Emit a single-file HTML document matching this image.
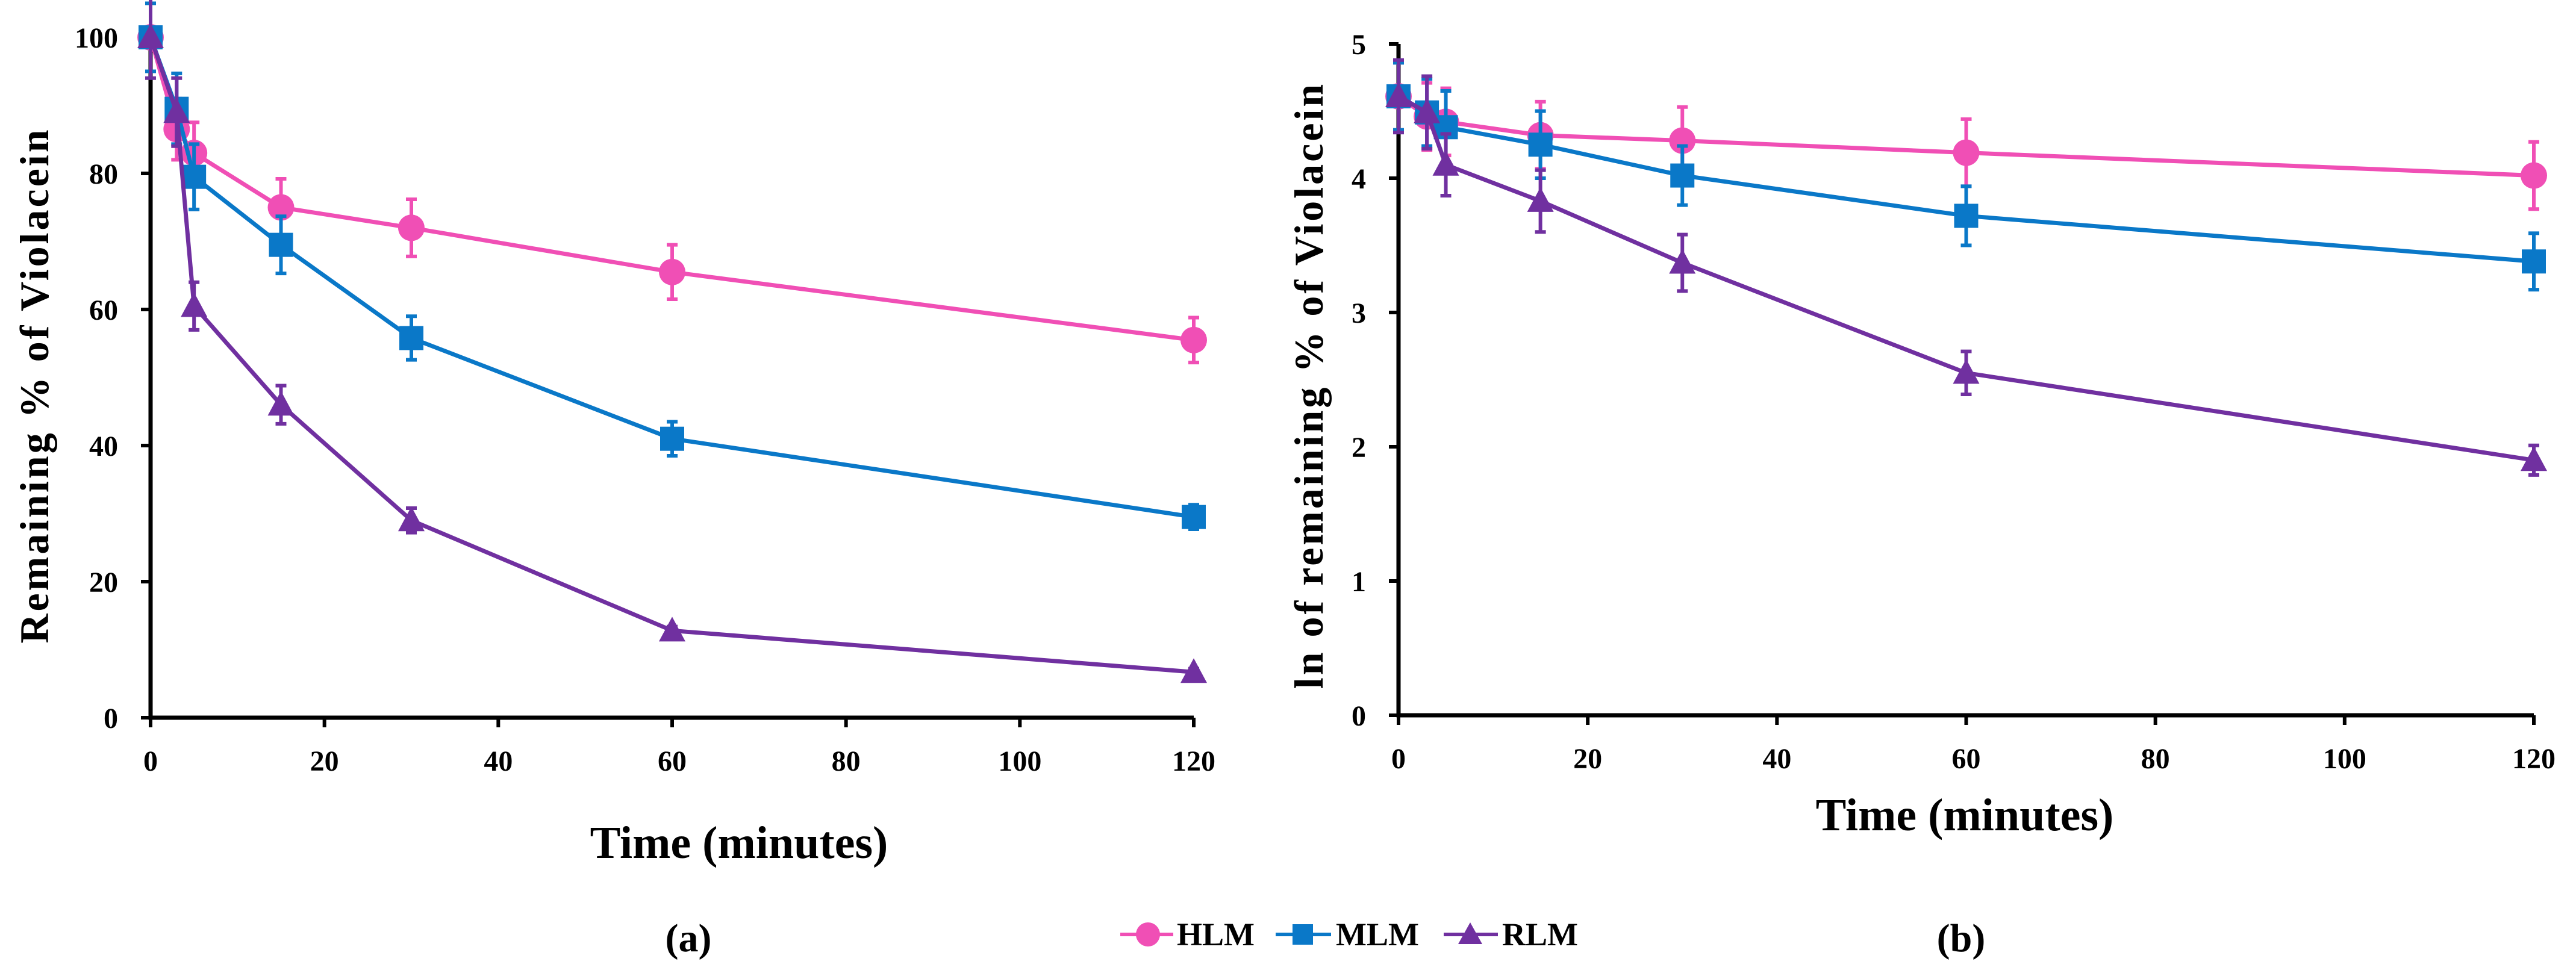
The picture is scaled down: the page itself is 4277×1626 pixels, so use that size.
<!DOCTYPE html>
<html><head><meta charset="utf-8"><style>
html,body{margin:0;padding:0;background:#fff;}
svg{display:block;font-family:"Liberation Serif",serif;font-weight:bold;}
</style></head><body>
<svg id="fig" width="4277" height="1626" viewBox="0 0 4277 1626" xmlns="http://www.w3.org/2000/svg">
<rect width="4277" height="1626" fill="#fff"/>
<text x="1227" y="1425" font-size="76" text-anchor="middle">Time (minutes)</text>
<text x="3262" y="1379" font-size="76" text-anchor="middle">Time (minutes)</text>
<text transform="translate(80,640) rotate(-90)" font-size="68" letter-spacing="4" text-anchor="middle">Remaining % of Violacein</text>
<text transform="translate(2196,640) rotate(-90)" font-size="68" letter-spacing="4" text-anchor="middle">ln of remaining % of Violacein</text>
<text x="1143" y="1580" font-size="66" text-anchor="middle">(a)</text>
<text x="3256" y="1580" font-size="66" text-anchor="middle">(b)</text>
<g>
<g><line x1="1860" y1="1552" x2="1948" y2="1552" stroke="#f04fb5" stroke-width="6"/><circle cx="1906" cy="1552" r="20" fill="#f04fb5"/><text x="1954" y="1570" font-size="54">HLM</text></g>
<g><line x1="2118" y1="1552" x2="2210" y2="1552" stroke="#0a78c8" stroke-width="6"/><rect x="2146" y="1535" width="34" height="34" fill="#0a78c8"/><text x="2218" y="1570" font-size="54">MLM</text></g>
<g><line x1="2397" y1="1552" x2="2487" y2="1552" stroke="#7030a0" stroke-width="6"/><polygon points="2441,1532 2461,1568 2421,1568" fill="#7030a0"/><text x="2494" y="1570" font-size="54">RLM</text></g>
</g>
</svg>
<script>
const times = [0, 3, 5, 15, 30, 60, 120];
const xTicks = [0, 20, 40, 60, 80, 100, 120];
const yTicksA = [0, 20, 40, 60, 80, 100];
const yTicksB = [0, 1, 2, 3, 4, 5];
const hlmA = [100, 86.5, 83, 75, 72, 65.5, 55.5];
const hlmAErr = [5, 4.5, 4.5, 4.2, 4.2, 4, 3.3];
const mlmA = [100, 89.5, 79.5, 69.5, 55.8, 41, 29.5];
const mlmAErr = [5, 5.2, 4.8, 4.2, 3.2, 2.5, 1.8];
const rlmA = [100, 89, 60.5, 46, 29, 12.8, 6.7];
const rlmAErr = [6, 5, 3.5, 2.8, 1.8, 0.6, 0.5];
const hlmB = [4.61, 4.46, 4.42, 4.32, 4.28, 4.19, 4.02];
const hlmBErr = [0.25, 0.25, 0.25, 0.25, 0.25, 0.25, 0.25];
const mlmB = [4.61, 4.49, 4.38, 4.25, 4.02, 3.72, 3.38];
const mlmBErr = [0.25, 0.25, 0.27, 0.25, 0.22, 0.22, 0.21];
const rlmB = [4.61, 4.49, 4.10, 3.83, 3.37, 2.55, 1.90];
const rlmBErr = [0.27, 0.27, 0.23, 0.23, 0.21, 0.16, 0.11];

const NS = "http://www.w3.org/2000/svg";
const svg = document.getElementById('fig');
function mk(tag, attrs, parent){const e=document.createElementNS(NS,tag);for(const k in attrs)e.setAttribute(k,attrs[k]);(parent||svg).appendChild(e);return e;}

function panel(id, x0, x1, y0, y1, ymax, yTicks, series){
  const sx = v => x0 + (v/120)*(x1-x0);
  const sy = v => y0 - (v/ymax)*(y0-y1);
  const g = mk('g', {});
  
  
  const ax = mk('path', {d:`M${x0},${sy(ymax)} L${x0},${y0} L${x1},${y0}`, stroke:'#000','stroke-width':7, fill:'none'}, g);
  
  
  xTicks.forEach(t => {
    mk('line',{x1:sx(t),x2:sx(t),y1:y0,y2:y0+16,stroke:'#000','stroke-width':6},g);
    const tx = mk('text',{x:sx(t),y:y0+88,'font-size':48,'text-anchor':'middle'},g);
    tx.textContent = t;
    
    
  });
  yTicks.forEach(t => {
    mk('line',{x1:x0-16,x2:x0,y1:sy(t),y2:sy(t),stroke:'#000','stroke-width':6},g);
    const tx = mk('text',{x:x0-54,y:sy(t)+17,'font-size':48,'text-anchor':'end'},g);
    tx.textContent = t;
    
    
  });
  series.forEach(s => {
    const sg = mk('g', {}, g);
    
    
    const pts = times.map((t,i)=>sx(t)+','+sy(s.vals[i])).join(' ');
    const ln = mk('polyline',{points:pts,fill:'none',stroke:s.color,'stroke-width':7},sg);
    
    
    times.forEach((t,i) => {
      const cx = sx(t), cy = sy(s.vals[i]), e = s.err[i];
      const top = sy(s.vals[i]+e), bot = sy(s.vals[i]-e);
      const eb = mk('path',{d:`M${cx},${top} L${cx},${bot} M${cx-9},${top} L${cx+9},${top} M${cx-9},${bot} L${cx+9},${bot}`,stroke:s.color,'stroke-width':6,fill:'none'},sg);
      
      
      let m;
      if (s.shape==='circle') m = mk('circle',{cx:cx,cy:cy,r:22,fill:s.color},sg);
      else if (s.shape==='square') m = mk('rect',{x:cx-20,y:cy-20,width:40,height:40,fill:s.color},sg);
      else m = mk('polygon',{points:`${cx},${cy-23} ${cx+22},${cy+18} ${cx-22},${cy+18}`,fill:s.color},sg);
      
      
    });
  });
}
panel('a', 250, 1982, 1192, 62, 100, yTicksA, [
  {name:'hlm', vals:hlmA, err:hlmAErr, color:'#f04fb5', shape:'circle'},
  {name:'mlm', vals:mlmA, err:mlmAErr, color:'#0a78c8', shape:'square'},
  {name:'rlm', vals:rlmA, err:rlmAErr, color:'#7030a0', shape:'tri'}
]);
panel('b', 2322, 4207, 1188, 73, 5, yTicksB, [
  {name:'hlm', vals:hlmB, err:hlmBErr, color:'#f04fb5', shape:'circle'},
  {name:'mlm', vals:mlmB, err:mlmBErr, color:'#0a78c8', shape:'square'},
  {name:'rlm', vals:rlmB, err:rlmBErr, color:'#7030a0', shape:'tri'}
]);
</script>
</body></html>
